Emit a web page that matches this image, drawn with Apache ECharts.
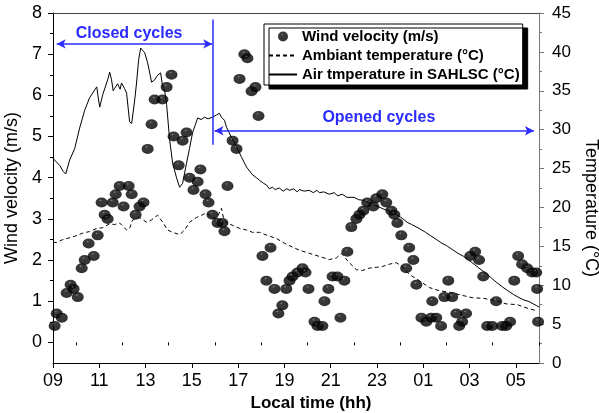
<!DOCTYPE html>
<html><head><meta charset="utf-8">
<script src="https://cdn.jsdelivr.net/npm/echarts@6/dist/echarts.min.js"></script>
<style>html,body{margin:0;padding:0;background:#fff}#c{width:599px;height:413px}</style>
</head><body><div id="c"></div>
<script>
// Wind velocity (m/s) scatter: local time in hours (24+ = next day)
const windTime = [9.07,9.16,9.38,9.59,9.76,9.89,10.07,10.24,10.37,10.54,
10.76,10.93,11.10,11.23,11.36,11.58,11.71,11.88,12.05,12.27,
12.40,12.57,12.74,12.91,13.09,13.26,13.39,13.73,13.91,14.12,
14.21,14.43,14.60,14.77,14.90,15.07,15.25,15.37,15.59,15.72,
15.89,16.11,16.32,16.41,16.54,16.76,16.93,17.06,17.27,17.40,
17.58,17.75,17.88,18.05,18.22,18.40,18.57,18.74,18.91,19.08,
19.22,19.35,19.56,19.78,19.91,20.04,20.30,20.43,20.64,20.73,
20.90,21.08,21.29,21.42,21.59,21.72,21.89,22.11,22.24,22.41,
22.58,22.84,22.97,23.23,23.40,23.62,23.75,23.88,24.05,24.26,
24.39,24.57,24.70,24.92,25.13,25.34,25.39,25.56,25.77,25.91,
26.08,26.25,26.43,26.55,26.68,26.85,27.03,27.24,27.41,27.59,
27.76,27.98,28.15,28.41,28.58,28.75,28.93,29.10,29.27,29.49,
29.70,29.88,29.92,29.96];
const windSpeed = [0.4,0.7,0.6,1.2,1.4,1.3,1.1,1.8,2.0,2.4,
2.1,2.6,3.4,3.1,3.0,3.4,3.6,3.8,3.3,3.8,
3.6,3.1,3.3,3.4,4.7,5.3,5.9,5.9,6.2,6.5,
5.0,4.3,4.9,5.1,4.0,3.7,3.9,4.2,3.6,3.4,
3.1,2.9,2.9,2.7,3.8,4.9,4.7,6.4,7.0,6.9,
6.1,6.2,5.5,2.1,1.5,2.3,1.3,0.7,0.9,1.3,
1.5,1.6,1.7,1.8,1.7,1.3,0.5,0.4,0.4,1.0,
1.3,1.6,1.6,0.6,1.5,2.2,2.8,3.0,3.1,3.2,
3.4,3.3,3.5,3.6,3.4,3.2,3.1,2.9,2.6,1.8,
2.3,2.0,1.4,0.6,0.5,0.6,1.0,0.6,0.4,1.1,
1.5,1.1,0.7,0.4,0.5,0.7,2.1,2.2,2.0,1.6,
0.4,0.4,1.0,0.4,0.4,0.5,1.5,2.1,1.9,1.8,
1.7,1.7,1.3,0.5];

// Air temperature in SAHLSC (°C)
const airTime = [9.00,9.07,9.29,9.45,9.55,9.72,9.94,10.15,10.37,10.58,10.80,10.89,10.95,11.02,11.15,11.36,11.45,11.53,11.60,11.66,11.79,11.90,11.96,12.09,12.18,12.31,12.40,12.53,12.61,12.70,12.79,12.87,12.96,13.09,13.26,13.39,13.52,13.65,13.74,13.82,13.91,14.04,14.17,14.34,14.47,14.60,14.77,14.90,15.03,15.25,15.40,15.55,15.70,15.89,16.07,16.19,16.28,16.41,16.50,16.71,16.93,17.14,17.36,17.62,17.80,17.92,18.10,18.22,18.35,18.48,18.60,18.78,18.95,19.10,19.22,19.40,19.55,19.65,19.85,20.07,20.25,20.40,20.51,20.70,20.94,21.15,21.30,21.50,21.70,22.01,22.20,22.45,22.70,22.97,23.20,23.53,23.80,24.09,24.30,24.50,24.82,25.10,25.30,25.56,25.80,26.00,26.25,26.50,26.75,26.98,27.20,27.45,27.72,27.95,28.15,28.41,28.65,28.90,29.14,29.35,29.57,29.75,29.88,30.00];
const airTemp = [26.3,26.1,25.4,24.6,24.3,26.1,27.6,30.2,32.5,34.1,35.1,35.5,34.2,32.9,34.5,36.4,37.4,36.4,35.0,35.3,35.9,35.2,36.0,35.3,34.7,31.0,30.8,33.8,36.0,39.0,40.5,40.2,39.9,38.6,36.1,36.4,37.0,37.3,35.5,35.1,33.2,28.7,25.7,23.8,22.6,23.1,25.7,27.6,29.6,31.5,31.3,31.6,31.4,31.6,31.9,32.1,31.6,31.2,30.3,29.0,27.8,26.5,25.2,24.2,23.8,23.5,23.1,22.9,22.4,22.6,22.3,22.5,22.1,22.4,22.2,22.4,22.0,22.3,22.1,22.2,21.9,22.2,21.9,22.0,21.7,21.9,21.5,21.7,21.3,21.3,21.0,20.9,20.5,20.2,19.9,19.5,19.2,18.6,18.1,17.8,17.3,16.8,16.4,15.9,15.4,15.1,14.6,14.1,13.7,13.2,12.7,12.1,11.5,10.9,10.4,9.8,9.3,8.8,8.4,8.1,7.9,7.6,7.4,7.2];

// Ambient temperature (°C)
const ambTime = [9.00,9.16,9.37,9.59,9.94,10.28,10.58,10.89,11.15,11.45,11.66,11.88,12.18,12.31,12.44,12.74,13.04,13.26,13.52,13.74,13.95,14.17,14.47,14.69,14.90,15.20,15.42,15.63,15.85,16.07,16.28,16.37,16.50,16.76,17.06,17.36,17.62,17.92,18.27,18.66,19.00,19.35,19.65,20.07,20.51,20.94,21.24,21.46,21.80,22.11,22.37,22.67,22.97,23.23,23.53,23.83,24.09,24.39,24.82,25.26,25.69,26.12,26.68,27.11,27.63,28.15,28.58,29.06,29.44,29.92];
const ambTemp = [15.5,15.5,15.8,16.0,16.3,16.7,16.9,17.3,17.4,17.9,17.8,18.0,17.1,17.3,18.4,18.7,18.1,18.4,19.0,18.1,17.1,16.8,16.5,17.1,18.1,18.7,19.0,19.3,18.7,18.6,19.9,18.6,18.0,17.7,17.3,17.1,16.8,16.8,16.4,16.0,15.4,14.9,14.5,14.1,13.7,13.3,13.5,14.1,12.9,12.0,11.9,12.2,12.3,12.4,12.7,12.9,12.4,11.4,10.6,9.7,9.3,9.1,8.7,8.4,8.3,8.0,7.6,7.5,7.1,6.7];

// Axis ticks and labels
const hourTicks = [9,11,13,15,17,19,21,23,25,27,29];
const hourLabels = ['09','11','13','15','17','19','21','23','01','03','05'];
const hourMinor = [10,12,14,16,18,20,22,24,26,28,30];
const windTicks = [0,1,2,3,4,5,6,7,8];
const windMinor = [0.5,1.5,2.5,3.5,4.5,5.5,6.5,7.5];

const seriesNames = ['Wind velocity (m/s)','Ambiant temperature (°C)','Air tmperature in SAHLSC (°C)'];
const FONT = 'Liberation Sans, Arial, sans-serif';
const BLUE = '#2b2bff';

const zip = (a,b)=>a.map((v,i)=>[v,b[i]]);
const hourLabel = v => { const i = hourTicks.indexOf(v); return i>=0 ? hourLabels[i] : ''; };

const chart = echarts.init(document.getElementById('c'), null, {renderer:'canvas'});
const dotColor = {type:'radial', x:0.42, y:0.3, r:0.6, colorStops:[{offset:0,color:'#777'},{offset:0.18,color:'#0a0a0a'},{offset:1,color:'#000'}]};

chart.setOption({
  animation:false,
  backgroundColor:'#fff',
  grid:{left:53, right:60, top:13, bottom:50, containLabel:false, outerBoundsMode:'none'},
  legend:{
    orient:'vertical', left:264, top:24,
    padding:[5,3,3,4], itemGap:4, itemWidth:28, itemHeight:10,
    backgroundColor:'#fff', borderColor:'#000', borderWidth:1, borderRadius:0,
    shadowColor:'#000', shadowOffsetX:5, shadowOffsetY:4, shadowBlur:0,
    selectedMode:false,
    textStyle:{fontFamily:FONT, fontSize:15, fontWeight:'bold', color:'#000', lineHeight:15},
    data:[{name:seriesNames[0], icon:'circle'},
          {name:seriesNames[1], itemStyle:{opacity:0}},
          {name:seriesNames[2], itemStyle:{opacity:0}}]
  },
  xAxis:[
    {type:'value', min:9, max:30, position:'bottom',
     name:'Local time (hh)', nameLocation:'middle', nameGap:29,
     nameTextStyle:{fontFamily:FONT, fontSize:17, fontWeight:'bold', color:'#000', padding:[0,0,0,30]},
     axisLine:{show:true, onZero:false, lineStyle:{color:'#000', width:1}},
     axisTick:{show:true, customValues:hourTicks, length:5, lineStyle:{color:'#000'}},
     axisLabel:{customValues:hourTicks, formatter:hourLabel, fontFamily:FONT, fontSize:18, color:'#000', margin:9},
     splitLine:{show:false}},
    {type:'value', min:9, max:30, position:'bottom',
     axisLine:{show:false}, axisLabel:{show:false}, splitLine:{show:false},
     axisTick:{show:true, customValues:hourMinor, length:3, lineStyle:{color:'#000'}}},
    {type:'value', min:9, max:30, position:'top',
     axisLine:{show:true, onZero:false, lineStyle:{color:'#444'}}, axisLabel:{show:false}, axisTick:{show:false}, splitLine:{show:false}}
  ],
  yAxis:[
    {type:'value', min:-0.5, max:8, position:'left',
     name:'Wind velocity (m/s)', nameLocation:'middle', nameGap:31,
     nameTextStyle:{fontFamily:FONT, fontSize:18, color:'#000'},
     axisLine:{show:true, onZero:false, lineStyle:{color:'#000'}},
     axisTick:{show:true, customValues:windTicks, length:5, lineStyle:{color:'#000'}},
     axisLabel:{customValues:windTicks, fontFamily:FONT, fontSize:18, color:'#000', margin:11},
     splitLine:{show:false}},
    {type:'value', min:0, max:45, interval:5, position:'right',
     name:'Temperature (°C)', nameLocation:'middle', nameGap:43, nameRotate:-90,
     nameTextStyle:{fontFamily:FONT, fontSize:18, color:'#000', padding:[0,0,0,40]},
     axisLine:{show:true, onZero:false, lineStyle:{color:'#777'}},
     axisTick:{show:true, length:5, lineStyle:{color:'#777'}},
     minorTick:{show:true, splitNumber:2, length:3, lineStyle:{color:'#777'}},
     axisLabel:{fontFamily:FONT, fontSize:17, color:'#000', margin:13},
     splitLine:{show:false}, minorSplitLine:{show:false}},
    {type:'value', min:-0.5, max:8, position:'left',
     axisLine:{show:false}, axisLabel:{show:false}, splitLine:{show:false},
     axisTick:{show:true, customValues:windMinor, length:3, lineStyle:{color:'#000'}}}
  ],
  series:[
    {name:seriesNames[2], type:'line', xAxisIndex:0, yAxisIndex:1, data:zip(airTime, airTemp),
     symbol:'none', lineStyle:{color:'#000', width:1}, itemStyle:{color:'#000'}, z:2},
    {name:seriesNames[1], type:'line', xAxisIndex:0, yAxisIndex:1, data:zip(ambTime, ambTemp),
     symbol:'none', lineStyle:{color:'#000', width:1, type:[4,3]}, itemStyle:{color:'#000'}, z:2},
    {name:seriesNames[0], type:'scatter', xAxisIndex:0, yAxisIndex:0, data:zip(windTime, windSpeed),
     symbol:'circle', symbolSize:[12,10], itemStyle:{color:dotColor}, z:3,
     markLine:{silent:true, symbol:['arrow','arrow'], symbolSize:[7,9], label:{show:false},
       lineStyle:{color:BLUE, width:1.5, type:'solid'},
       data:[
         [{coord:[9.16,7.25]},{coord:[15.88,7.25]}],
         [{coord:[15.905,7.84], symbol:'none'},{coord:[15.905,4.8], symbol:'none'}],
         [{coord:[15.98,5.14]},{coord:[29.78,5.14]}]
       ]},
     markPoint:{silent:true, symbol:'circle', symbolSize:0,
       label:{show:true, position:'inside', formatter:'{b}', fontFamily:FONT, fontSize:16, fontWeight:'bold', color:BLUE},
       data:[{name:'Closed cycles', coord:[12.29,7.5]},{name:'Opened cycles', coord:[23.08,5.47]}]}
    }
  ]
});
</script>
</body></html>
